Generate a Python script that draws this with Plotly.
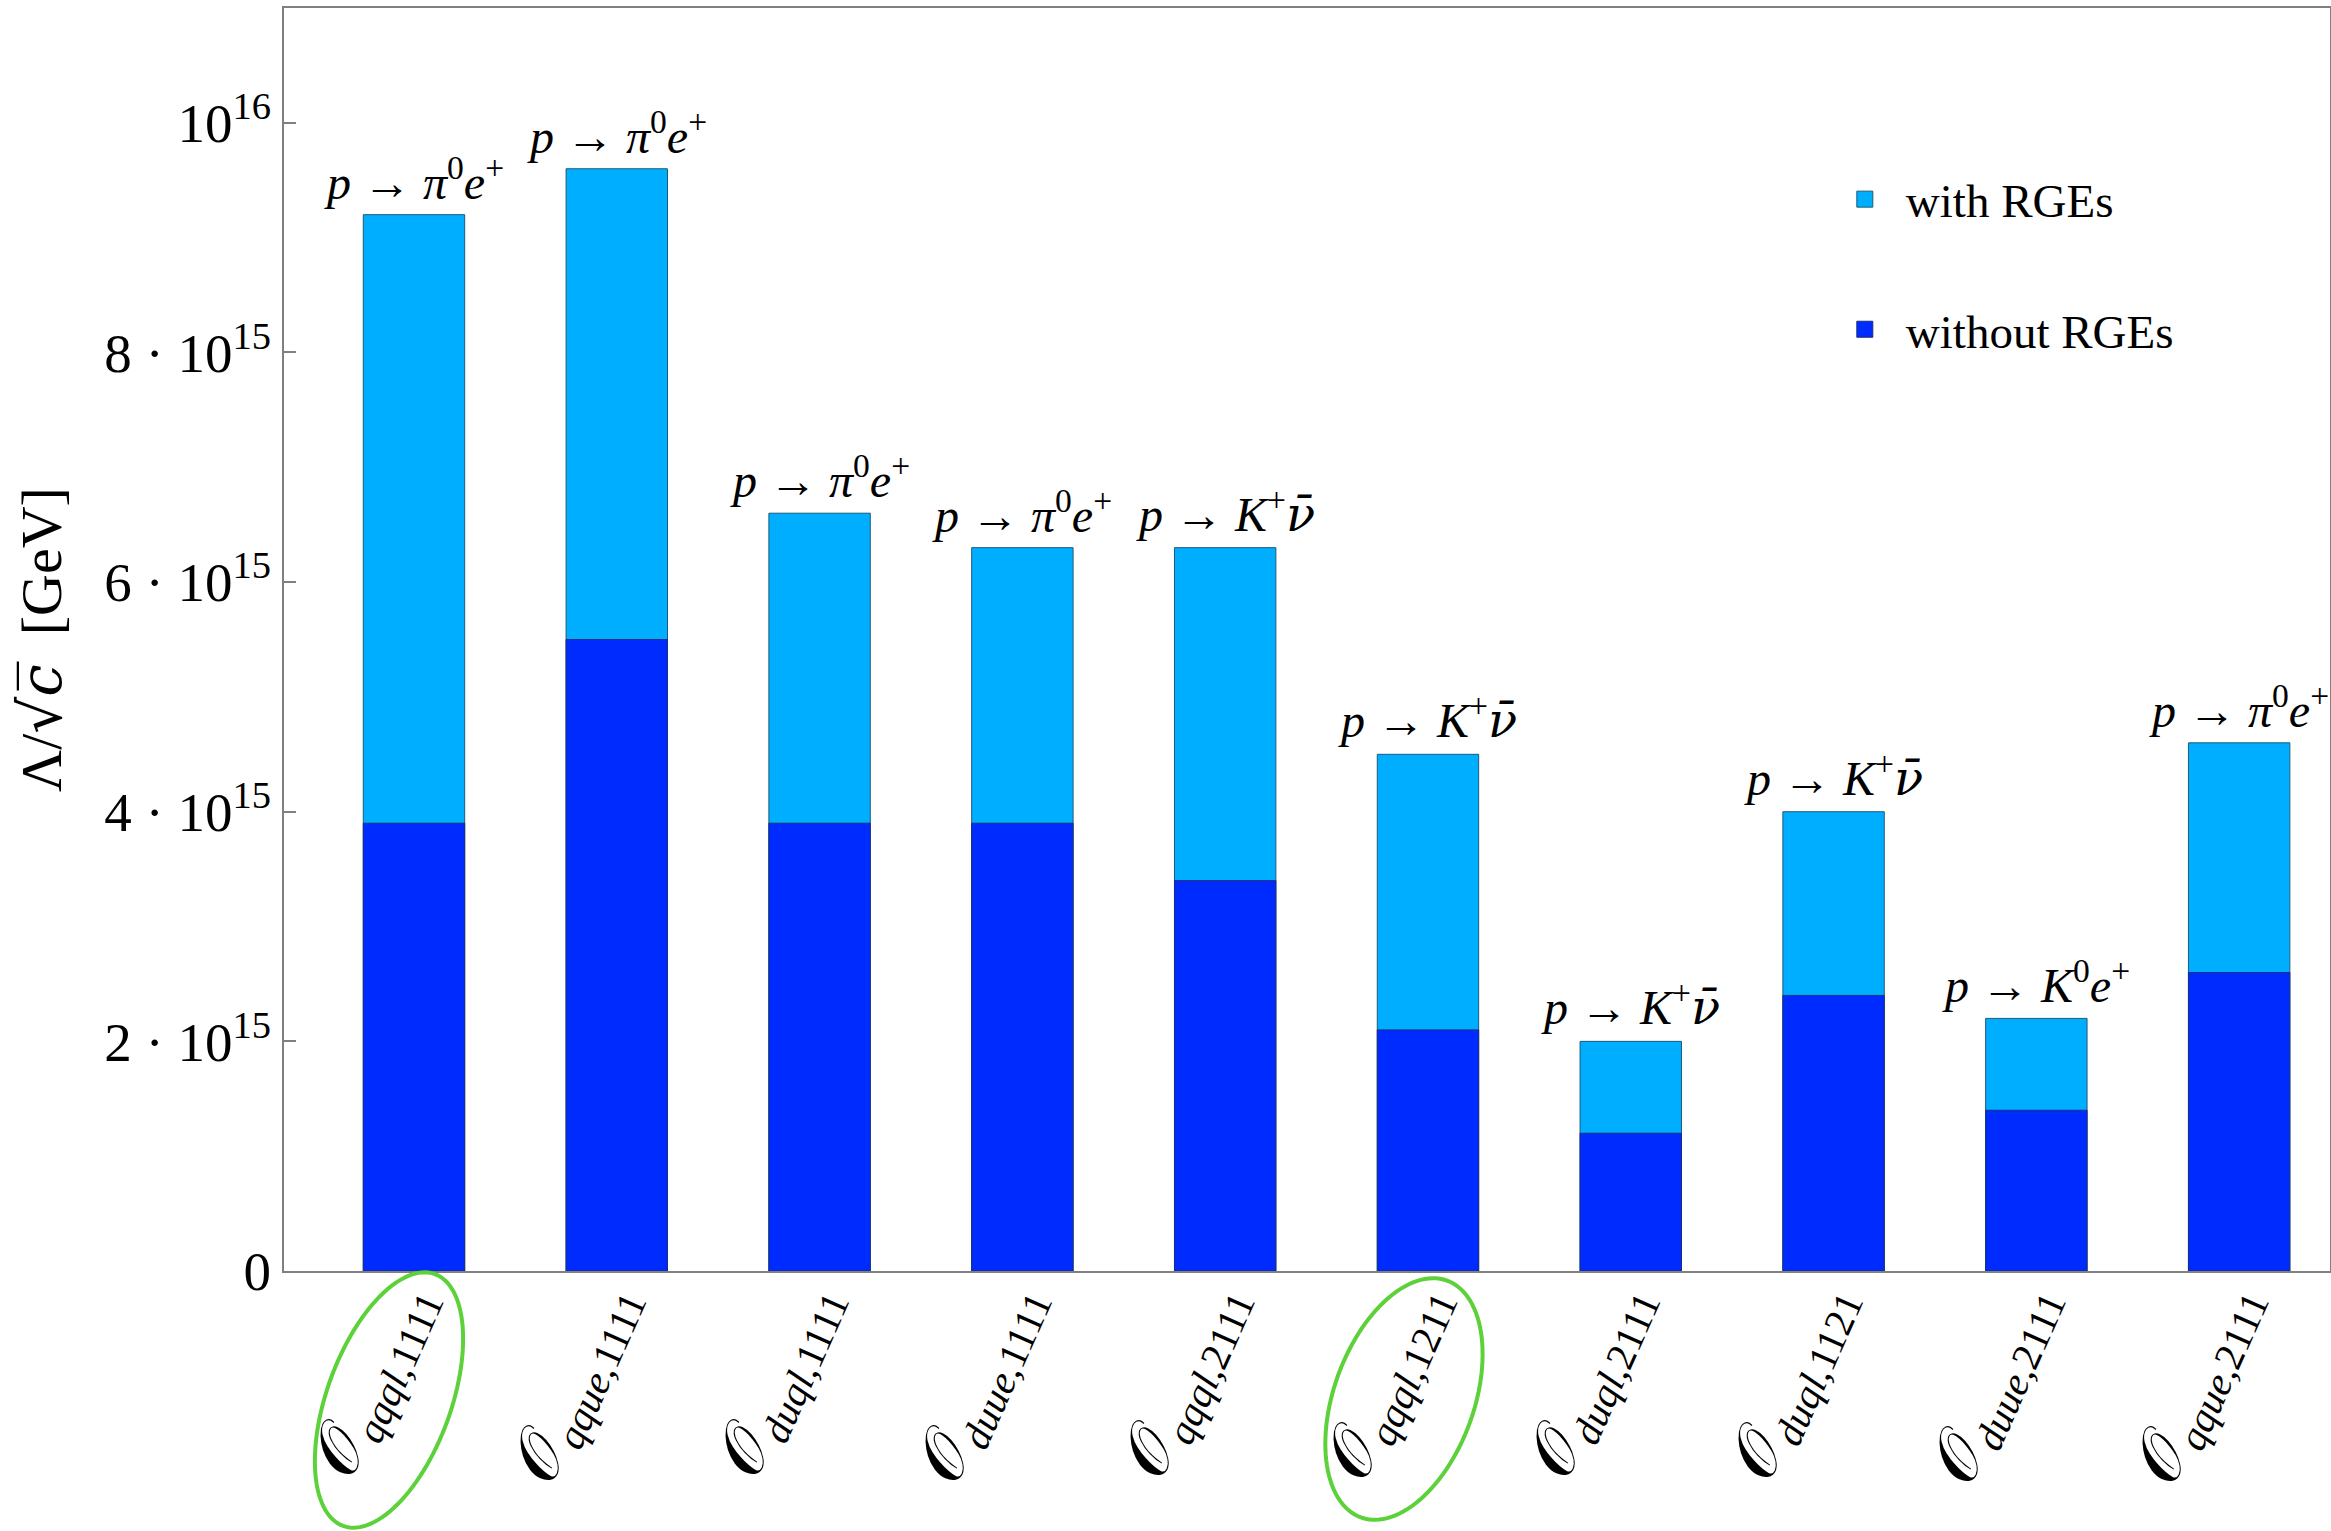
import numpy as np
import plotly.graph_objects as go

# ---- data ----
operators = ["qqql,1111", "qque,1111", "duql,1111", "duue,1111", "qqql,2111",
             "qqql,1211", "duql,2111", "duql,1121", "duue,2111", "qque,2111"]
with_rges = [9.2e15, 9.6e15, 6.6e15, 6.3e15, 6.3e15, 4.5e15, 2.0e15, 4.0e15, 2.2e15, 4.6e15]
without_rges = [3.9e15, 5.5e15, 3.9e15, 3.9e15, 3.4e15, 2.1e15, 1.2e15, 2.4e15, 1.4e15, 2.6e15]
channels = ["pi0e", "pi0e", "pi0e", "pi0e", "Knu", "Knu", "Knu", "Knu", "K0e", "pi0e"]
highlighted = [0, 5]
ytick_vals = [0, 2e15, 4e15, 6e15, 8e15, 1e16]
ytick_text = ["0", "2 · 10<sup>15</sup>", "4 · 10<sup>15</sup>", "6 · 10<sup>15</sup>",
              "8 · 10<sup>15</sup>", "10<sup>16</sup>"]

DV = "<span style='font-family:DejaVu Serif'>%s</span>"
channel_text = {
    "pi0e": "<i>p</i> → <i>π</i><sup>0</sup><i>e</i><sup>+</sup>",
    "Knu": "<i>p</i> → <i>K</i><sup>+</sup><i>" + (DV % "ν̄") + "</i>",
    "K0e": "<i>p</i> → <i>K</i><sup>0</sup><i>e</i><sup>+</sup>",
}

FONT = "Liberation Serif"
LIGHT = "#00AEFF"
DARK = "#002BFF"
W, H = 2331, 1531
ML, MR, MT, MB = 284, 1, 8, 260
PW, PH = W - ML - MR, H - MT - MB

x = list(range(len(operators)))
label_pos = [xi - 0.035 for xi in x]
ticktext = ["<span style='font-size:70px'>𝒪</span><sub><i>%s</i>,%s</sub>" % tuple(op.split(","))
            for op in operators]

fig = go.Figure()
fig.add_trace(go.Bar(x=x, y=with_rges, name="with RGEs", width=0.5, showlegend=False,
                     marker=dict(color=LIGHT, line=dict(color="#1d5a7a", width=1))))
fig.add_trace(go.Bar(x=x, y=without_rges, name="without RGEs", width=0.5, showlegend=False,
                     marker=dict(color=DARK, line=dict(color="#1b2f7a", width=1))))
# legend entries (square swatches)
fig.add_trace(go.Scatter(x=[None], y=[None], mode="markers", name="with RGEs", legendgroup="a",
                         marker=dict(symbol="square", size=16, color=LIGHT,
                                     line=dict(color="#1d5a7a", width=1))))
fig.add_trace(go.Scatter(x=[None], y=[None], mode="markers", name="without RGEs", legendgroup="b",
                         marker=dict(symbol="square", size=16, color=DARK,
                                     line=dict(color="#1b2f7a", width=1))))

for xi, yv, ch in zip(x, with_rges, channels):
    fig.add_annotation(x=xi, y=yv, text=channel_text[ch], showarrow=False,
                       yanchor="bottom", xanchor="center", yshift=4,
                       font=dict(family=FONT, size=48, color="black"))

# green ellipses around highlighted labels (pixel geometry -> data/paper coords)
xr = [-0.641, 9.448]
px_per_x = PW / (xr[1] - xr[0])
def ellipse_path(xc, dx_px, cy_px, a, b, tilt_deg):
    th = np.radians(tilt_deg)
    t = np.linspace(0, 2 * np.pi, 121)
    d = np.array([np.sin(th), -np.cos(th)])
    v = np.array([np.cos(th), np.sin(th)])
    px = dx_px + a * np.cos(t) * d[0] + b * np.sin(t) * v[0]
    py = cy_px + a * np.cos(t) * d[1] + b * np.sin(t) * v[1]
    xs = xc + px / px_per_x
    ys = -(py - (MT + PH)) / PH
    pts = ["%s%.5f,%.5f" % ("M" if i == 0 else "L", xx, yy) for i, (xx, yy) in enumerate(zip(xs, ys))]
    return " ".join(pts) + " Z"

ell_params = {0: (-25, 1400, 134, 62, 20), 5: (-24, 1399, 126, 70, 20)}
for idx in highlighted:
    dxp, cy, a, b, tl = ell_params[idx]
    fig.add_shape(type="path", path=ellipse_path(idx, dxp, cy, a, b, tl),
                  xref="x", yref="paper", line=dict(color="#5CD13A", width=4))

fig.update_layout(
    width=W, height=H,
    margin=dict(l=ML, r=MR, t=MT, b=MB, pad=0),
    paper_bgcolor="white", plot_bgcolor="white",
    barmode="overlay",
    font=dict(family=FONT, color="black"),
    showlegend=True,
    legend=dict(x=0.7526, y=0.878, xanchor="left", yanchor="top",
                font=dict(family=FONT, size=47), tracegroupgap=66,
                bgcolor="rgba(0,0,0,0)", itemwidth=72, itemsizing="trace"),
    xaxis=dict(range=xr, tickmode="array", tickvals=label_pos, ticktext=ticktext,
               tickangle=-66, tickfont=dict(family=FONT, size=58), automargin=False,
               ticklabelstandoff=-30,
               showline=True, linecolor="#808080", linewidth=2, mirror=True,
               ticks="", showgrid=False, zeroline=False),
    yaxis=dict(range=[0, 1.1e16], tickmode="array", tickvals=ytick_vals, ticktext=ytick_text,
               tickfont=dict(family=FONT, size=55), ticks="inside", ticklen=12,
               tickcolor="#808080", tickwidth=2, automargin=False,
               showline=True, linecolor="#808080", linewidth=2, mirror=True,
               showgrid=False, zeroline=False,
               title=dict(text="Λ/" + (DV % "√<i>c̅</i>") + "  [GeV]",
                          font=dict(family=FONT, size=58), standoff=24)),
)

fig.write_html("out.html", config={"displayModeBar": False},
               post_script="document.body.style.margin='0px';document.body.style.overflow='hidden';")
